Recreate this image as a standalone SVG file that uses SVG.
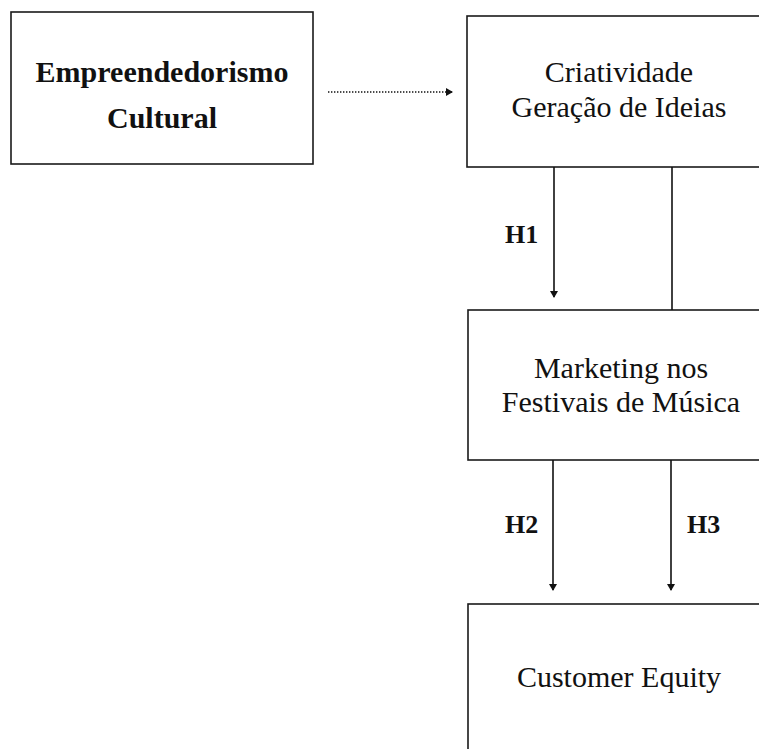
<svg xmlns="http://www.w3.org/2000/svg" width="759" height="749" viewBox="0 0 759 749">
  <defs>
    <style>
      .box { fill: #ffffff; stroke: #1a1a1a; stroke-width: 1.6; }
      .lbl { font-family: "Liberation Serif", "Times New Roman", serif; font-size: 30px; fill: #111; text-anchor: middle; }
      .bold { font-weight: bold; }
      .hyp { font-family: "Liberation Serif", "Times New Roman", serif; font-size: 26px; font-weight: bold; fill: #111; }
      .link { stroke: #111; stroke-width: 1.6; fill: none; }
      .dotted { stroke: #111; stroke-width: 1.6; stroke-dasharray: 1.4 1.6; fill: none; }
    </style>
    <marker id="tip" markerWidth="8" markerHeight="8" refX="6" refY="4" orient="auto" markerUnits="userSpaceOnUse">
      <path d="M0,0 L7,4 L0,8 Z" fill="#111"/>
    </marker>
  </defs>
  <rect width="759" height="749" fill="#ffffff"/>

  <g id="empreendedorismo">
    <rect class="box" x="11" y="12" width="302" height="152"/>
    <text class="lbl bold" x="162" y="82">Empreendedorismo</text>
    <text class="lbl bold" x="162" y="128">Cultural</text>
  </g>

  <g id="criatividade">
    <rect class="box" x="467" y="16" width="304" height="151"/>
    <text class="lbl" x="619" y="82">Criatividade</text>
    <text class="lbl" x="619" y="117">Geração de Ideias</text>
  </g>

  <g id="marketing">
    <rect class="box" x="468" y="310" width="303" height="150"/>
    <text class="lbl" x="621" y="378">Marketing nos</text>
    <text class="lbl" x="621" y="412">Festivais de Música</text>
  </g>

  <g id="customer-equity">
    <rect class="box" x="468" y="604" width="303" height="160"/>
    <text class="lbl" x="619" y="687">Customer Equity</text>
  </g>

  <g id="connectors">
    <line class="dotted" x1="328" y1="92" x2="452" y2="92" marker-end="url(#tip)"/>
    <line class="link" x1="554" y1="167" x2="554" y2="297" marker-end="url(#tip)"/>
    <line class="link" x1="672" y1="167" x2="672" y2="310"/>
    <line class="link" x1="553" y1="460" x2="553" y2="590" marker-end="url(#tip)"/>
    <line class="link" x1="671" y1="460" x2="671" y2="590" marker-end="url(#tip)"/>
    <text class="hyp" x="505" y="243">H1</text>
    <text class="hyp" x="505" y="533">H2</text>
    <text class="hyp" x="687" y="533">H3</text>
  </g>
</svg>
